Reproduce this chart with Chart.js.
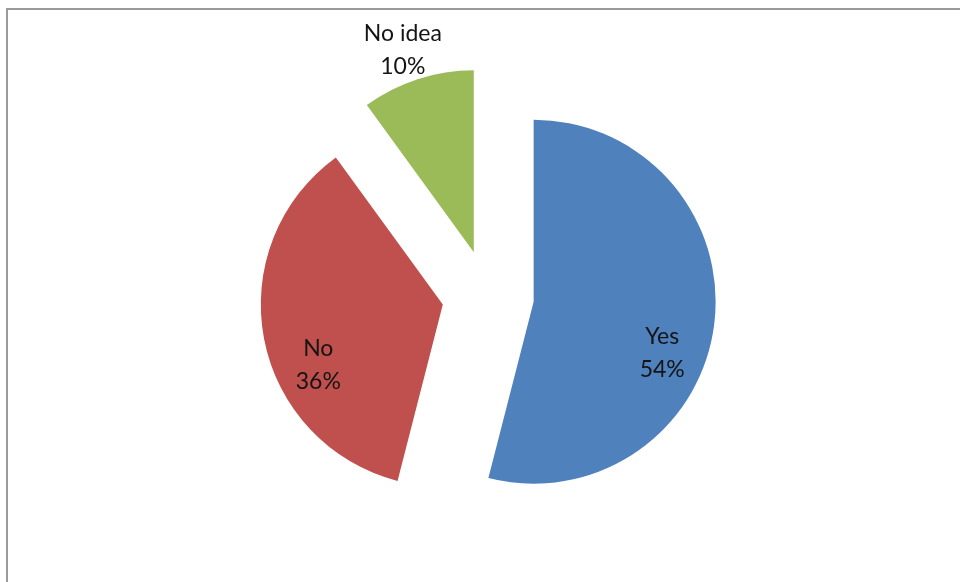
<!DOCTYPE html>
<html>
<head>
<meta charset="utf-8">
<script src="https://cdn.jsdelivr.net/npm/chart.js@4/dist/chart.umd.min.js"></script>
<style>
  html, body { margin: 0; padding: 0; background: #ffffff; }
  #wrap { width: 960px; height: 582px; }
</style>
</head>
<body>
<div id="wrap"><canvas id="chart" width="960" height="582"></canvas></div>
<script>
// Survey answers and their shares (percent)
const categories = ['Yes', 'No', 'No idea'];
const shares = [54, 36, 10];
const sliceColors = ['#4F81BD', '#C0504D', '#9BBB59'];

// Label placement for each slice: distance as a fraction of the radius,
// and an angular shift (degrees) from the slice's mid-angle.
const labelPlacement = [
  { frac: 0.76, shift: 14.4 },
  { frac: 0.76, shift: -15 },
  { frac: 1.18, shift: -1.3 }
];

// How far every slice is pulled out from the centre, in pixels
const EXPLODE_PX = 46;

// Pull each slice outward along its mid-angle while the pie is drawn,
// keeping its radius and angles exactly as the controller laid them out.
const explodePlugin = {
  id: 'explode',
  beforeDatasetDraw(chart, args) {
    args.meta.data.forEach(arc => {
      const half = (arc.startAngle + arc.endAngle) / 2;
      arc._home = { x: arc.x, y: arc.y };
      arc.x = arc.x + Math.cos(half) * EXPLODE_PX;
      arc.y = arc.y + Math.sin(half) * EXPLODE_PX;
    });
  },
  afterDatasetDraw(chart, args) {
    args.meta.data.forEach(arc => {
      if (arc._home) {
        arc.x = arc._home.x;
        arc.y = arc._home.y;
        delete arc._home;
      }
    });
  }
};

// Grey frame around the plot
const framePlugin = {
  id: 'frame',
  beforeDraw(chart) {
    const ctx = chart.ctx;
    ctx.save();
    ctx.fillStyle = '#ffffff';
    ctx.fillRect(0, 0, chart.width, chart.height);
    ctx.strokeStyle = '#9a9a9a';
    ctx.lineWidth = 2;
    ctx.strokeRect(7, 9, chart.width + 20, chart.height + 20);
    ctx.restore();
  }
};

// Category name and percentage drawn on (or beside) each slice
const sliceLabelPlugin = {
  id: 'sliceLabels',
  afterDatasetsDraw(chart) {
    const ctx = chart.ctx;
    const meta = chart.getDatasetMeta(0);
    const values = chart.data.datasets[0].data;
    ctx.save();
    ctx.font = '23px Lato, "Open Sans", sans-serif';
    ctx.fillStyle = '#141414';
    ctx.textAlign = 'center';
    ctx.textBaseline = 'middle';
    meta.data.forEach((arc, i) => {
      const half = (arc.startAngle + arc.endAngle) / 2;
      const cx = arc.x + Math.cos(half) * EXPLODE_PX;
      const cy = arc.y + Math.sin(half) * EXPLODE_PX;
      const place = labelPlacement[i];
      const ang = half + place.shift * Math.PI / 180;
      const r = arc.outerRadius * place.frac;
      const lx = cx + Math.cos(ang) * r;
      const ly = cy + Math.sin(ang) * r;
      ctx.fillText(chart.data.labels[i], lx, ly - 16);
      ctx.fillText(values[i] + '%', lx, ly + 17);
    });
    ctx.restore();
  }
};

new Chart(document.getElementById('chart'), {
  type: 'pie',
  data: {
    labels: categories,
    datasets: [{
      data: shares,
      backgroundColor: sliceColors,
      borderWidth: 0,
      offset: 0,
      clip: false
    }]
  },
  options: {
    responsive: false,
    animation: false,
    devicePixelRatio: 1,
    radius: 182,
    layout: { padding: { left: 16, top: 10, right: 0, bottom: 0 } },
    plugins: {
      legend: { display: false },
      tooltip: { enabled: false }
    }
  },
  plugins: [framePlugin, explodePlugin, sliceLabelPlugin]
});
</script>
</body>
</html>
